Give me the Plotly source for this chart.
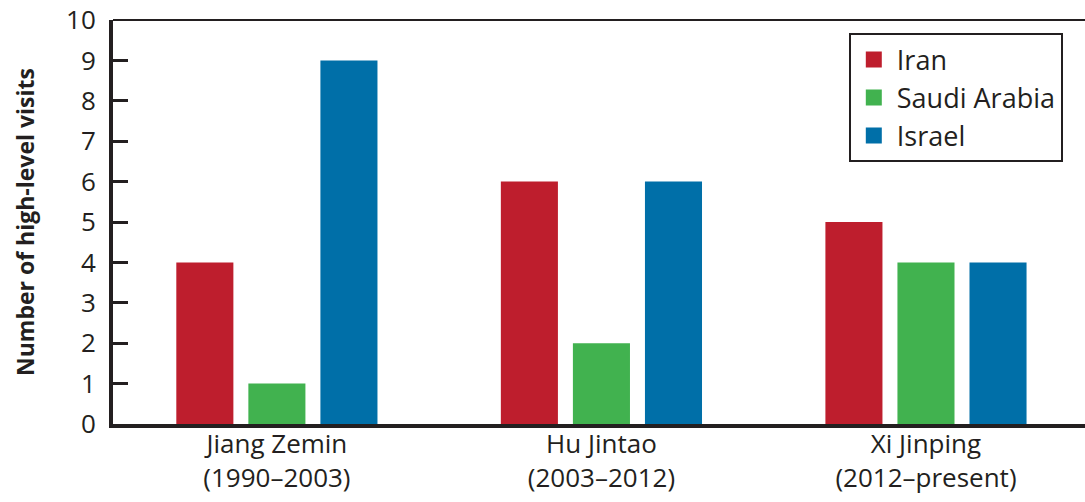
import plotly.graph_objects as go

categories = ["Jiang Zemin<br>(1990–2003)", "Hu Jintao<br>(2003–2012)", "Xi Jinping<br>(2012–present)"]
iran = [4, 6, 5]
saudi = [1, 2, 4]
israel = [9, 6, 4]
series_names = ["Iran", "Saudi Arabia", "Israel"]
colors = ["#BE1E2D", "#41B24F", "#006FA8"]
y_ticks = list(range(0, 11))

ink = "#231F20"
font_family = "Open Sans"

fig = go.Figure()
for name, vals, col in zip(series_names, [iran, saudi, israel], colors):
    fig.add_trace(go.Bar(name=name, x=categories, y=vals, legendgroup=name, showlegend=False,
                         marker=dict(color=col, line=dict(width=0))))
# legend entries with larger square swatches
for name, col in zip(series_names, colors):
    fig.add_trace(go.Scatter(name=name, x=[None], y=[None], mode="markers", legendgroup=name,
                             marker=dict(symbol="square", size=16, color=col)))

fig.update_layout(
    width=1085, height=502,
    margin=dict(l=113, r=0, t=20, b=78),
    paper_bgcolor="white", plot_bgcolor="white",
    barmode="group", bargap=0.334, bargroupgap=0.208,
    font=dict(family=font_family, color=ink, size=26),
    showlegend=True,
    legend=dict(
        x=0.757, y=0.967, xanchor="left", yanchor="top",
        bordercolor=ink, borderwidth=2, bgcolor="white",
        font=dict(size=27, family=font_family, color=ink),
        tracegroupgap=0, itemwidth=36,
    ),
    xaxis=dict(
        range=[-0.505, 2.49], showgrid=False, zeroline=False, automargin=False,
        showline=True, linecolor=ink, linewidth=4, ticks="",
        ticklabelstandoff=-6,
        tickfont=dict(size=26, family=font_family, color=ink),
    ),
    yaxis=dict(
        range=[0, 10], tickvals=y_ticks, showgrid=False, zeroline=False, automargin=False,
        showline=True, linecolor=ink, linewidth=4,
        ticks="inside", ticklen=15, tickwidth=3, tickcolor=ink,
        ticklabelstandoff=8,
        tickfont=dict(size=26, family=font_family, color=ink),
        title=dict(text="<b>Number of high-level visits</b>", standoff=26,
                   font=dict(size=23, family=font_family, color=ink)),
    ),
)
fig.add_shape(type="line", xref="paper", yref="paper", x0=0, x1=1, y0=1, y1=1,
              line=dict(color=ink, width=2))

fig.write_html("out.html", config={"displayModeBar": False},
               post_script="document.body.style.margin='0px';")
